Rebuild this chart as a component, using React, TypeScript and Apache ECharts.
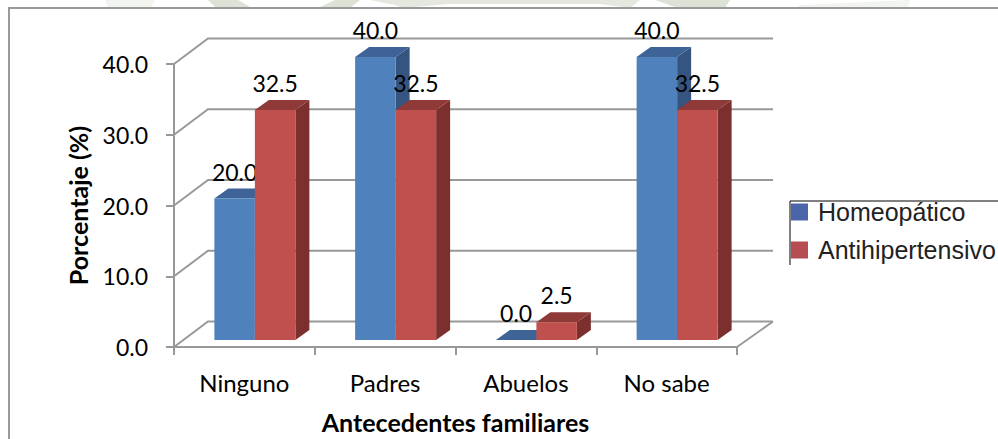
import React, { useEffect, useRef } from "react";
import * as echarts from "echarts";

const categories = ["Ninguno", "Padres", "Abuelos", "No sabe"];
const homeopatico = [20.0, 40.0, 0.0, 40.0];
const antihipertensivo = [32.5, 32.5, 2.5, 32.5];
const yTicks = [0, 10, 20, 30, 40];
const serieNames = ["Homeopático", "Antihipertensivo"];

const FONT = "Lato";
const BAR = 40.5;
const DX = 14;
const DY = 10;
const BASE_SHIFT_X = 10.5;
const BASE_SHIFT_Y = -7;

const barRenderer = (side: number, front: string, top: string, right: string) => (_p: any, api: any) => {
  const idx = api.value(0);
  const val = api.value(1);
  const c = api.coord([idx, val]);
  const b = api.coord([idx, 0]);
  const x0 = c[0] + BASE_SHIFT_X + (side === 0 ? -BAR : 0);
  const x1 = x0 + BAR;
  const yT = c[1] + BASE_SHIFT_Y;
  const yB = b[1] + BASE_SHIFT_Y;
  const poly = (points: number[][], fill: string) => ({
    type: "polygon",
    shape: { points },
    style: { fill, stroke: null },
  });
  return {
    type: "group",
    children: [
      poly([[x1, yT], [x1 + DX, yT - DY], [x1 + DX, yB - DY], [x1, yB]], right),
      poly([[x0, yT], [x0 + DX, yT - DY], [x1 + DX, yT - DY], [x1, yT]], top),
      poly([[x0, yT], [x1, yT], [x1, yB], [x0, yB]], front),
      {
        type: "text",
        z2: 50,
        style: {
          x: (x0 + x1) / 2,
          y: yT - 27,
          text: val.toFixed(1),
          fill: "#000",
          font: `23px ${FONT}`,
          align: "center",
          verticalAlign: "middle",
        },
      },
    ],
  };
};

const wallRenderer = (params: any, api: any) => {
  const v = api.value(0);
  const p = api.coord([0, v]);
  const left = params.coordSys.x;
  const right = left + params.coordSys.width;
  const lineStyle = { stroke: "#999", lineWidth: 2, fill: null };
  const backY = p[1] - 25.5;
  const children: any[] = [
    {
      type: "polyline",
      shape: { points: [[left, p[1]], [left + 34, backY], [right + 36, backY]] },
      style: lineStyle,
    },
  ];
  if (v === 0) {
    children.push({
      type: "line",
      shape: { x1: right, y1: p[1], x2: right + 36, y2: backY },
      style: lineStyle,
    });
  }
  return { type: "group", children };
};

export default function App() {
  const ref = useRef<HTMLDivElement>(null);
  useEffect(() => {
    const chart = echarts.init(ref.current!, null, { renderer: "svg" });
    const wm = (pts: number[][], fill: string) => ({
      type: "polygon",
      z: -2,
      shape: { points: pts },
      style: { fill },
    });
    chart.setOption({
      animation: false,
      backgroundColor: "#fff",
      grid: { left: 174, top: 64, width: 563, height: 283, containLabel: false, outerBoundsMode: "none" },
      legend: {
        show: true,
        data: serieNames.map((name) => ({ name, icon: "rect" })),
        left: 791,
        top: 197,
        orient: "vertical",
        itemWidth: 17,
        itemHeight: 17,
        itemGap: 8,
        padding: 0,
        textStyle: { fontFamily: "Liberation Sans", fontSize: 25, color: "#222", padding: [0, 0, 0, 5], lineHeight: 30 },
        selectedMode: false,
      },
      xAxis: {
        type: "category",
        z: 5,
        data: categories,
        name: "Antecedentes familiares",
        nameLocation: "middle",
        nameGap: 62,
        nameTextStyle: { fontFamily: FONT, fontSize: 25, fontWeight: "bold", color: "#000" },
        axisLine: { lineStyle: { color: "#999", width: 2 } },
        axisTick: { show: true, alignWithLabel: false, length: 8, lineStyle: { color: "#999", width: 2 } },
        axisLabel: { fontFamily: FONT, fontSize: 24, color: "#000", margin: 23 },
        splitLine: { show: false },
      },
      yAxis: {
        type: "value",
        z: 5,
        min: 0,
        max: 40,
        interval: 10,
        name: "Porcentaje (%)",
        nameLocation: "middle",
        nameGap: 84,
        nameTextStyle: { fontFamily: FONT, fontSize: 25, fontWeight: "bold", color: "#000" },
        axisLine: { show: true, lineStyle: { color: "#999", width: 2 } },
        axisTick: { show: true, length: 8, lineStyle: { color: "#999", width: 2 } },
        axisLabel: {
          fontFamily: FONT,
          fontSize: 23,
          color: "#000",
          margin: 26,
          formatter: (v: number) => v.toFixed(1),
        },
        splitLine: { show: false },
      },
      series: [
        {
          type: "custom",
          name: "wall",
          z: 2,
          clip: false,
          silent: true,
          data: yTicks.map((t) => [t]),
          encode: { y: 0 },
          renderItem: wallRenderer,
        },
        {
          type: "custom",
          name: serieNames[0],
          z: 3,
          clip: false,
          itemStyle: { color: "#4A66A8" },
          data: homeopatico.map((v, i) => [i, v]),
          encode: { x: 0, y: 1 },
          renderItem: barRenderer(0, "#4F81BD", "#3E6497", "#355480"),
        },
        {
          type: "custom",
          name: serieNames[1],
          z: 4,
          clip: false,
          itemStyle: { color: "#B84C54" },
          data: antihipertensivo.map((v, i) => [i, v]),
          encode: { x: 0, y: 1 },
          renderItem: barRenderer(1, "#C0504D", "#8F3A38", "#7B302E"),
        },
      ],
      graphic: {
        elements: [
          wm([[105, 0], [155, 0], [150, 8], [108, 8]], "#F2F4EF"),
          wm([[208, 0], [238, 0], [252, 8], [216, 8]], "#DDE2D6"),
          wm([[335, 0], [360, 0], [350, 8], [318, 8]], "#DDE2D6"),
          wm([[370, 0], [640, 0], [630, 8], [600, 4], [450, 4], [402, 8], [395, 5]], "#E4E8DF"),
          wm([[655, 0], [730, 0], [725, 8], [678, 8]], "#DDE2D6"),
          wm([[800, 5], [910, 0], [908, 8], [795, 8]], "#F2F4EF"),
          {
            type: "rect",
            z: -1,
            shape: { x: 9, y: 8, width: 1100, height: 600 },
            style: { fill: "#fff", stroke: "#999", lineWidth: 2 },
          },
          { type: "rect", z: 100, shape: { x: 791, y: 180, width: 207, height: 21 }, style: { fill: "#fff" } },
          { type: "rect", z: 100, shape: { x: 791, y: 265, width: 207, height: 16 }, style: { fill: "#fff" } },
          { type: "line", z: 101, shape: { x1: 790, y1: 201, x2: 998, y2: 201 }, style: { stroke: "#000", lineWidth: 1 } },
          { type: "line", z: 101, shape: { x1: 790, y1: 201, x2: 790, y2: 265 }, style: { stroke: "#000", lineWidth: 1 } },
        ],
      },
    });
    return () => chart.dispose();
  }, []);
  return (
    <div
      ref={ref}
      style={{ position: "absolute", left: 0, top: 0, width: 998, height: 439 }}
    />
  );
}
